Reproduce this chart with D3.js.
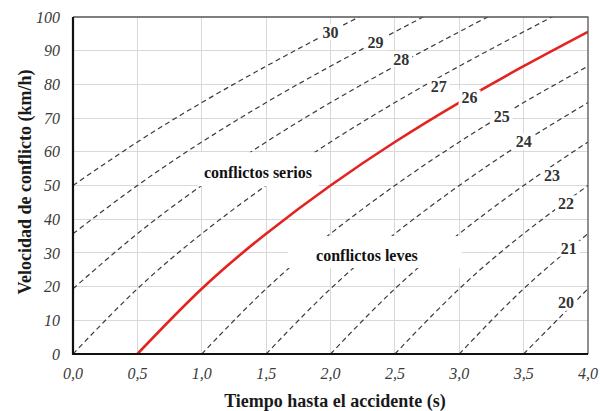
<!DOCTYPE html>
<html>
<head>
<meta charset="utf-8">
<script src="https://d3js.org/d3.v7.min.js"></script>
<style>
  body { margin: 0; background: #fff; }
  .grid line { stroke: #d9d9d9; stroke-width: 1; shape-rendering: crispEdges; }
  .tick-lab { font: italic 16px "Liberation Serif", serif; fill: #3a3a3a; }
  .title { font: bold 18px "Liberation Serif", serif; fill: #1a1a1a; }
  .curve { fill: none; stroke: #3a3a3a; stroke-width: 1.2; stroke-dasharray: 5,3.5; }
  .serious { fill: none; stroke: #e3231f; stroke-width: 2.6; }
  .lab { font: bold 16px "Liberation Serif", serif; fill: #333; }
  .zone { font: bold 16px "Liberation Serif", serif; fill: #111; }
</style>
</head>
<body>
<svg id="chart" width="600" height="411"></svg>
<script>
// ticks
var xTicks = [0, 0.5, 1, 1.5, 2, 2.5, 3, 3.5, 4];
var yTicks = [0, 10, 20, 30, 40, 50, 60, 70, 80, 90, 100];

// severity curves [time (s), speed (km/h)], every 0.5 s
// (the last point of 27-30 lies just above the frame, where the line leaves it)
var sev30 = [[0, 50], [0.5, 62.9], [1.0, 74.6], [1.5, 85.4], [2.0, 95.6], [2.5, 105.6]];
var sev29 = [[0, 35.7], [0.5, 50], [1.0, 62.9], [1.5, 74.6], [2.0, 85.4], [2.5, 95.6], [3.0, 105.6]];
var sev28 = [[0, 19.35], [0.5, 35.7], [1.0, 50], [1.5, 62.9], [2.0, 74.6], [2.5, 85.4], [3.0, 95.6], [3.5, 105.6]];
var sev27 = [[0, 0], [0.5, 19.35], [1.0, 35.7], [1.5, 50], [2.0, 62.9], [2.5, 74.6], [3.0, 85.4], [3.5, 95.6], [4.0, 105.6]];
var sev26 = [[0.5, 0], [1.0, 19.35], [1.5, 35.7], [2.0, 50], [2.5, 62.9], [3.0, 74.6], [3.5, 85.4], [4.0, 95.6]];
var sev25 = [[1.0, 0], [1.5, 19.35], [2.0, 35.7], [2.5, 50], [3.0, 62.9], [3.5, 74.6], [4.0, 85.4]];
var sev24 = [[1.5, 0], [2.0, 19.35], [2.5, 35.7], [3.0, 50], [3.5, 62.9], [4.0, 74.6]];
var sev23 = [[2.0, 0], [2.5, 19.35], [3.0, 35.7], [3.5, 50], [4.0, 62.9]];
var sev22 = [[2.5, 0], [3.0, 19.35], [3.5, 35.7], [4.0, 50]];
var sev21 = [[3.0, 0], [3.5, 19.35], [4.0, 35.7]];
var sev20 = [[3.5, 0], [4.0, 19.35]];

var dashed = [sev30, sev29, sev28, sev27, sev25, sev24, sev23, sev22, sev21, sev20];

// curve labels
var labText = ["30", "29", "28", "27", "26", "25", "24", "23", "22", "21", "20"];
var labT = [2.0, 2.35, 2.55, 2.84, 3.08, 3.33, 3.5, 3.72, 3.83, 3.85, 3.83];
var labV = [95.5, 92.5, 87.5, 79.5, 76, 70.5, 63, 53, 44.7, 31.3, 15.2];

// zone notes: text, text position, white box [t0, t1, v0, v1]
var zoneText = ["conflictos serios", "conflictos leves"];
var zoneT = [1.437, 2.283];
var zoneV = [54, 29.4];
var zoneBox = [[0.97, 1.91, 49.8, 59.9], [1.67, 3.02, 25.5, 35]];

var svg = d3.select("#chart"),
  margin = { top: 17, right: 12, bottom: 57, left: 73 },
  width = 600 - margin.left - margin.right,
  height = 411 - margin.top - margin.bottom;

var x = d3.scaleLinear().domain([0, 4]).range([margin.left, margin.left + width]);
var y = d3.scaleLinear().domain([0, 100]).range([margin.top + height, margin.top]);

svg.append("defs").append("clipPath").attr("id", "plot")
  .append("rect")
  .attr("x", x(0)).attr("y", y(100))
  .attr("width", x(4) - x(0)).attr("height", y(0) - y(100));

var grid = svg.append("g").attr("class", "grid");
grid.selectAll(".v").data(xTicks.slice(1, -1)).join("line")
  .attr("x1", d => x(d)).attr("x2", d => x(d))
  .attr("y1", y(0)).attr("y2", y(100));
grid.selectAll(".h").data(yTicks.slice(1, -1)).join("line")
  .attr("x1", x(0)).attr("x2", x(4))
  .attr("y1", d => y(d)).attr("y2", d => y(d));

var line = d3.line()
  .curve(d3.curveNatural)
  .x(d => x(d[0]))
  .y(d => y(d[1]));

var plot = svg.append("g").attr("clip-path", "url(#plot)");

plot.selectAll(".curve").data(dashed).join("path")
  .attr("class", "curve")
  .attr("d", line);

plot.append("path")
  .attr("class", "serious")
  .attr("d", line(sev26));

// top / right frame
svg.append("path")
  .attr("d", "M" + x(0) + "," + y(100) + "H" + x(4) + "V" + y(0))
  .attr("fill", "none")
  .attr("stroke", "#555")
  .attr("stroke-width", 1.3);

// zone notes
svg.selectAll(".zoneBox").data(zoneBox).join("rect")
  .attr("x", d => x(d[0]))
  .attr("width", d => x(d[1]) - x(d[0]))
  .attr("y", d => y(d[3]))
  .attr("height", d => y(d[2]) - y(d[3]))
  .attr("fill", "#fff");

svg.selectAll(".zone").data(zoneText).join("text")
  .attr("class", "zone")
  .attr("x", (d, i) => x(zoneT[i]))
  .attr("y", (d, i) => y(zoneV[i]))
  .attr("dy", "0.35em")
  .attr("text-anchor", "middle")
  .text(d => d);

// curve labels with white backing
var labs = svg.selectAll(".labG").data(labText).join("g")
  .attr("transform", (d, i) => "translate(" + x(labT[i]) + "," + y(labV[i]) + ")");

labs.append("rect")
  .attr("x", -11).attr("y", -8)
  .attr("width", 22).attr("height", 16)
  .attr("fill", "#fff");

labs.append("text")
  .attr("class", "lab")
  .attr("text-anchor", "middle")
  .attr("dy", "0.35em")
  .text(d => d);

// axes (left and bottom)
svg.append("path")
  .attr("d", "M" + x(0) + "," + y(100) + "V" + y(0) + "H" + x(4))
  .attr("fill", "none")
  .attr("stroke", "#111")
  .attr("stroke-width", 2.2);

var fmt = d3.format(".1f");
svg.selectAll(".xt").data(xTicks).join("text")
  .attr("class", "tick-lab")
  .attr("x", d => x(d))
  .attr("y", y(0) + 25)
  .attr("text-anchor", "middle")
  .text(d => fmt(d).replace(".", ","));

svg.selectAll(".yt").data(yTicks).join("text")
  .attr("class", "tick-lab")
  .attr("x", x(0) - 13)
  .attr("y", d => y(d))
  .attr("dy", "0.35em")
  .attr("text-anchor", "end")
  .text(d => d);

svg.append("text")
  .attr("class", "title")
  .attr("x", 335)
  .attr("y", 407)
  .attr("text-anchor", "middle")
  .text("Tiempo hasta el accidente (s)");

svg.append("text")
  .attr("class", "title")
  .attr("transform", "translate(31,182) rotate(-90)")
  .attr("text-anchor", "middle")
  .text("Velocidad de conflicto (km/h)");
</script>
</body>
</html>
